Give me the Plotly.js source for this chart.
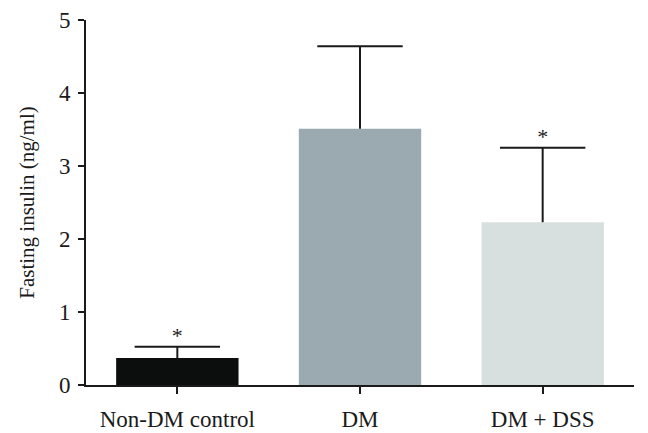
<!DOCTYPE html>
<html>
<head>
<meta charset="utf-8">
<script src="https://cdn.plot.ly/plotly-3.0.1.min.js"></script>
<style>
  html, body { margin: 0; padding: 0; background: #fff; }
  #chart { width: 648px; height: 433px; }
</style>
</head>
<body>
<div id="chart"></div>
<script>
const groups = ['Non-DM control', 'DM', 'DM + DSS']
const means = [0.37, 3.51, 2.23]
const errors = [0.155, 1.13, 1.02]
const barColors = ['#0b0e0d', '#9aaab0', '#d7e0df']
const significant = [true, false, true]

const serif = 'Liberation Serif, Times New Roman, serif'
const ink = '#1a1a1a'
const pos = groups.map((g, i) => i)

const bars = {
  x: pos,
  y: means,
  type: 'bar',
  width: 0.67,
  marker: {color: barColors, line: {width: 0}},
  // upward stem only, the cap is drawn by the marker trace below
  error_y: {
    type: 'data',
    array: errors,
    symmetric: false,
    arrayminus: errors.map(() => 0),
    color: ink,
    thickness: 2,
    width: 0,
  },
  hoverinfo: 'none',
  showlegend: false,
}

const caps = {
  x: pos,
  y: means.map((m, i) => m + errors[i]),
  type: 'scatter',
  mode: 'markers',
  marker: {symbol: 'line-ew', size: 61, line: {width: 2, color: ink}},
  hoverinfo: 'none',
  showlegend: false,
}

// asterisks sit just above the error bar caps
const starIdx = pos.filter((i) => significant[i])
const stars = {
  x: starIdx,
  y: starIdx.map((i) => means[i] + errors[i] + 0.13),
  type: 'scatter',
  mode: 'text',
  text: starIdx.map(() => '*'),
  textfont: {family: serif, size: 22, color: '#222'},
  hoverinfo: 'none',
  showlegend: false,
}

const layout = {
  width: 648,
  height: 433,
  margin: {l: 86, r: 14, t: 20, b: 48, pad: 0},
  paper_bgcolor: '#fff',
  plot_bgcolor: '#fff',
  font: {family: serif, color: ink},
  xaxis: {
    range: [-0.5, 2.5],
    tickvals: pos,
    ticktext: groups,
    showline: true,
    linecolor: ink,
    linewidth: 2,
    ticks: 'outside',
    ticklen: 7,
    tickwidth: 2,
    tickcolor: ink,
    ticklabelstandoff: 5,
    tickfont: {family: serif, size: 23, color: ink},
    showgrid: false,
    zeroline: false,
    fixedrange: true,
  },
  yaxis: {
    range: [0, 5],
    tickvals: [0, 1, 2, 3, 4, 5],
    showline: true,
    linecolor: ink,
    linewidth: 2,
    ticks: 'outside',
    ticklen: 6,
    tickwidth: 2,
    tickcolor: ink,
    ticklabelstandoff: 3,
    tickfont: {family: serif, size: 23, color: ink},
    showgrid: false,
    zeroline: false,
    fixedrange: true,
    title: {
      text: 'Fasting insulin (ng/ml)',
      font: {family: serif, size: 21, color: ink},
      standoff: 19,
    },
  },
}

Plotly.newPlot('chart', [bars, caps, stars], layout, {displayModeBar: false, staticPlot: true})
</script>
</body>
</html>
